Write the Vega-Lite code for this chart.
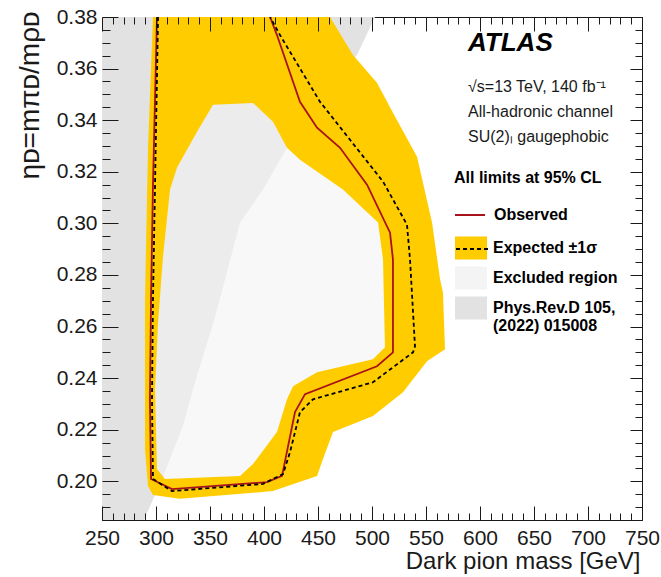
{
  "$schema": "https://vega.github.io/schema/vega-lite/v6.json",
  "width": 540,
  "height": 503,
  "autosize": {"type": "none"},
  "padding": {"left": 102, "top": 17, "right": 19, "bottom": 57},
  "background": "white",
  "config": {
    "font": "Liberation Sans",
    "view": {"stroke": "#1a1a1a", "strokeWidth": 1},
    "axis": {
      "grid": false,
      "domain": false,
      "tickColor": "#1a1a1a",
      "tickWidth": 1,
      "labelColor": "#1a1a1a",
      "labelFont": "Liberation Sans",
      "labelFontSize": 21,
      "titleFont": "Liberation Sans",
      "titleColor": "#1a1a1a",
      "titleFontSize": 24,
      "titleFontWeight": "normal"
    },
    "legend": {
      "labelFont": "Liberation Sans",
      "titleFont": "Liberation Sans",
      "labelColor": "black",
      "titleColor": "black",
      "padding": 0
    }
  },
  "title": {
    "text": "ATLAS",
    "subtitle": ["√s=13 TeV, 140 fb⁻¹", "All-hadronic channel", "SU(2)ₗ gaugephobic"],
    "orient": "top",
    "anchor": "start",
    "frame": "group",
    "offset": 0,
    "dx": 366,
    "dy": 139,
    "font": "Liberation Sans",
    "fontSize": 26,
    "fontStyle": "italic",
    "fontWeight": "bold",
    "color": "black",
    "subtitleFont": "Liberation Sans",
    "subtitleFontSize": 16,
    "subtitleColor": "#1a1a1a",
    "subtitleLineHeight": 25,
    "subtitlePadding": 23
  },
  "datasets": {
    "phys": [
      {"seq": 1, "mass": 250, "eta": 0.38},
      {"seq": 2, "mass": 502.8, "eta": 0.38},
      {"seq": 3, "mass": 486.1, "eta": 0.3653},
      {"seq": 4, "mass": 451.9, "eta": 0.3479},
      {"seq": 5, "mass": 421.3, "eta": 0.3293},
      {"seq": 6, "mass": 399.1, "eta": 0.3131},
      {"seq": 7, "mass": 377.8, "eta": 0.3003},
      {"seq": 8, "mass": 365.7, "eta": 0.281},
      {"seq": 9, "mass": 354.6, "eta": 0.2636},
      {"seq": 10, "mass": 334.3, "eta": 0.2357},
      {"seq": 11, "mass": 325.0, "eta": 0.2214},
      {"seq": 12, "mass": 308.3, "eta": 0.2036},
      {"seq": 13, "mass": 288.9, "eta": 0.185},
      {"seq": 14, "mass": 250, "eta": 0.185}
    ],
    "band": [
      {"seq": 1, "mass": 297.2, "eta": 0.38},
      {"seq": 2, "mass": 461.1, "eta": 0.38},
      {"seq": 3, "mass": 482.4, "eta": 0.3653},
      {"seq": 4, "mass": 504.6, "eta": 0.3545},
      {"seq": 5, "mass": 519.4, "eta": 0.3429},
      {"seq": 6, "mass": 541.7, "eta": 0.3258},
      {"seq": 7, "mass": 555.6, "eta": 0.3003},
      {"seq": 8, "mass": 563.0, "eta": 0.2783},
      {"seq": 9, "mass": 565.7, "eta": 0.2732},
      {"seq": 10, "mass": 567.6, "eta": 0.2512},
      {"seq": 11, "mass": 550.9, "eta": 0.2465},
      {"seq": 12, "mass": 528.7, "eta": 0.2345},
      {"seq": 13, "mass": 500.9, "eta": 0.2253},
      {"seq": 14, "mass": 463.9, "eta": 0.2191},
      {"seq": 15, "mass": 454.6, "eta": 0.2086},
      {"seq": 16, "mass": 449.1, "eta": 0.2021},
      {"seq": 17, "mass": 408.3, "eta": 0.1962},
      {"seq": 18, "mass": 322.2, "eta": 0.1932},
      {"seq": 19, "mass": 297.2, "eta": 0.1947},
      {"seq": 20, "mass": 292.6, "eta": 0.1982},
      {"seq": 21, "mass": 289.8, "eta": 0.2125},
      {"seq": 22, "mass": 289.8, "eta": 0.2705},
      {"seq": 23, "mass": 292.6, "eta": 0.3293},
      {"seq": 24, "mass": 297.2, "eta": 0.38},
      {"seq": 25, "mass": 338.0, "eta": 0.3355},
      {"seq": 26, "mass": 319.4, "eta": 0.3216},
      {"seq": 27, "mass": 313.0, "eta": 0.3131},
      {"seq": 28, "mass": 306.5, "eta": 0.2872},
      {"seq": 29, "mass": 301.9, "eta": 0.2616},
      {"seq": 30, "mass": 299.1, "eta": 0.2357},
      {"seq": 31, "mass": 300.9, "eta": 0.2048},
      {"seq": 32, "mass": 308.3, "eta": 0.2009},
      {"seq": 33, "mass": 377.8, "eta": 0.2021},
      {"seq": 34, "mass": 389.8, "eta": 0.2067},
      {"seq": 35, "mass": 412.0, "eta": 0.2191},
      {"seq": 36, "mass": 421.3, "eta": 0.2318},
      {"seq": 37, "mass": 426.9, "eta": 0.2369},
      {"seq": 38, "mass": 449.1, "eta": 0.2423},
      {"seq": 39, "mass": 500.9, "eta": 0.2473},
      {"seq": 40, "mass": 512.0, "eta": 0.252},
      {"seq": 41, "mass": 510.2, "eta": 0.286},
      {"seq": 42, "mass": 505.6, "eta": 0.3003},
      {"seq": 43, "mass": 473.1, "eta": 0.3131},
      {"seq": 44, "mass": 433.3, "eta": 0.3247},
      {"seq": 45, "mass": 421.3, "eta": 0.3293},
      {"seq": 46, "mass": 408.3, "eta": 0.3394},
      {"seq": 47, "mass": 389.8, "eta": 0.3467},
      {"seq": 48, "mass": 352.8, "eta": 0.346},
      {"seq": 49, "mass": 338.0, "eta": 0.3355}
    ],
    "observed": [
      {"seq": 1, "mass": 300.9, "eta": 0.38},
      {"seq": 2, "mass": 297.2, "eta": 0.315},
      {"seq": 3, "mass": 295.4, "eta": 0.2705},
      {"seq": 4, "mass": 294.4, "eta": 0.2318},
      {"seq": 5, "mass": 295.4, "eta": 0.2009},
      {"seq": 6, "mass": 314.8, "eta": 0.197},
      {"seq": 7, "mass": 402.8, "eta": 0.1997},
      {"seq": 8, "mass": 416.7, "eta": 0.2021},
      {"seq": 9, "mass": 428.7, "eta": 0.2268},
      {"seq": 10, "mass": 438.0, "eta": 0.2338},
      {"seq": 11, "mass": 504.6, "eta": 0.2446},
      {"seq": 12, "mass": 519.4, "eta": 0.25},
      {"seq": 13, "mass": 519.4, "eta": 0.286},
      {"seq": 14, "mass": 516.7, "eta": 0.2964},
      {"seq": 15, "mass": 495.4, "eta": 0.315},
      {"seq": 16, "mass": 470.4, "eta": 0.3293},
      {"seq": 17, "mass": 449.1, "eta": 0.3371},
      {"seq": 18, "mass": 433.3, "eta": 0.3471},
      {"seq": 19, "mass": 412.0, "eta": 0.373},
      {"seq": 20, "mass": 405.6, "eta": 0.38}
    ],
    "expected": [
      {"seq": 1, "mass": 301.9, "eta": 0.38},
      {"seq": 2, "mass": 299.1, "eta": 0.315},
      {"seq": 3, "mass": 297.2, "eta": 0.2705},
      {"seq": 4, "mass": 296.3, "eta": 0.2318},
      {"seq": 5, "mass": 297.2, "eta": 0.2009},
      {"seq": 6, "mass": 314.8, "eta": 0.1962},
      {"seq": 7, "mass": 399.1, "eta": 0.199},
      {"seq": 8, "mass": 417.6, "eta": 0.2028},
      {"seq": 9, "mass": 424.1, "eta": 0.2113},
      {"seq": 10, "mass": 433.3, "eta": 0.2268},
      {"seq": 11, "mass": 445.4, "eta": 0.2318},
      {"seq": 12, "mass": 500.9, "eta": 0.2384},
      {"seq": 13, "mass": 538.0, "eta": 0.25},
      {"seq": 14, "mass": 539.8, "eta": 0.2523},
      {"seq": 15, "mass": 535.2, "eta": 0.286},
      {"seq": 16, "mass": 532.4, "eta": 0.2995},
      {"seq": 17, "mass": 510.2, "eta": 0.3162},
      {"seq": 18, "mass": 451.9, "eta": 0.3471},
      {"seq": 19, "mass": 414.8, "eta": 0.373},
      {"seq": 20, "mass": 405.6, "eta": 0.38}
    ]
  },
  "resolve": {"scale": {"x": "independent", "y": "independent"}},
  "layer": [
    {
      "data": {"name": "phys"},
      "mark": {"type": "line", "strokeWidth": 0, "clip": true},
      "encoding": {
        "x": {
          "field": "mass", "type": "quantitative",
          "scale": {"domain": [250, 750], "nice": false, "zero": false},
          "axis": {
            "orient": "bottom",
            "values": [250, 300, 350, 400, 450, 500, 550, 600, 650, 700, 750],
            "ticks": false, "tickSize": 0,
            "labelPadding": 7, "labelFlush": false, "labelOverlap": false, "labelBound": false,
            "format": "d",
            "title": "Dark pion mass [GeV]",
            "titleX": 538, "titleY": 48,
            "titleAlign": "right", "titleBaseline": "alphabetic", "titleAngle": 0
          }
        },
        "y": {
          "field": "eta", "type": "quantitative",
          "scale": {"domain": [0.185, 0.38], "nice": false, "zero": false},
          "axis": {
            "orient": "left",
            "values": [0.2, 0.22, 0.24, 0.26, 0.28, 0.3, 0.32, 0.34, 0.36, 0.38],
            "ticks": false, "tickSize": 0,
            "labelPadding": 5, "labelFlush": false, "labelOverlap": false, "labelBound": false,
            "format": ".2f",
            "title": "ηᴅ=mπᴅ/mρᴅ",
            "titleFontSize": 28,
            "titleX": -64, "titleY": -6,
            "titleAngle": -90, "titleAlign": "right", "titleBaseline": "alphabetic"
          }
        },
        "order": {"field": "seq", "type": "quantitative"},
        "fill": {
          "datum": "Phys.Rev.D 105, (2022) 015008",
          "type": "nominal",
          "scale": {
            "domain": ["Expected ±1σ", "Excluded region", "Phys.Rev.D 105, (2022) 015008"],
            "range": ["#ffcc00", "#f4f4f4", "#e2e2e2"]
          },
          "legend": {
            "orient": "none", "legendX": 353, "legendY": 215,
            "title": null,
            "symbolType": "M-1,-0.72H1V0.72H-1Z",
            "symbolSize": 1024,
            "symbolStrokeWidth": 0,
            "labelFontSize": 16, "labelFontWeight": "bold",
            "labelOffset": 6, "labelLimit": 300,
            "rowPadding": 2,
            "labelExpr": "datum.label == 'Phys.Rev.D 105, (2022) 015008' ? ['Phys.Rev.D 105,', '(2022) 015008'] : datum.label",
            "encode": {
              "symbols": {
                "update": {
                  "fill": {"scale": "fill", "field": "value"},
                  "fillOpacity": {"value": 1}
                }
              },
              "labels": {"update": {"lineHeight": {"value": 17}}}
            }
          }
        }
      }
    },
    {
      "data": {"name": "observed"},
      "mark": {"type": "line", "strokeWidth": 0, "fillOpacity": 0.6, "clip": true},
      "encoding": {
        "x": {
          "field": "mass", "type": "quantitative",
          "scale": {"domain": [250, 750], "nice": false, "zero": false},
          "axis": {
            "orient": "bottom", "zindex": 1,
            "values": [250, 300, 350, 400, 450, 500, 550, 600, 650, 700, 750],
            "labels": false, "ticks": true, "tickSize": 14, "offset": -14, "title": null
          }
        },
        "y": {
          "field": "eta", "type": "quantitative",
          "scale": {"domain": [0.185, 0.38], "nice": false, "zero": false},
          "axis": {
            "orient": "left", "zindex": 1,
            "values": [0.2, 0.22, 0.24, 0.26, 0.28, 0.3, 0.32, 0.34, 0.36, 0.38],
            "labels": false, "ticks": true, "tickSize": 16, "offset": -16, "title": null
          }
        },
        "order": {"field": "seq", "type": "quantitative"},
        "fill": {"datum": "Excluded region", "type": "nominal"}
      }
    },
    {
      "data": {"name": "band"},
      "mark": {"type": "line", "strokeWidth": 0, "clip": true},
      "encoding": {
        "x": {
          "field": "mass", "type": "quantitative",
          "scale": {"domain": [250, 750], "nice": false, "zero": false},
          "axis": {
            "orient": "bottom", "zindex": 1,
            "values": [260, 270, 280, 290, 310, 320, 330, 340, 360, 370, 380, 390, 410, 420, 430, 440, 460, 470, 480, 490, 510, 520, 530, 540, 560, 570, 580, 590, 610, 620, 630, 640, 660, 670, 680, 690, 710, 720, 730, 740],
            "labels": false, "ticks": true, "tickSize": 7, "offset": -7, "title": null
          }
        },
        "y": {
          "field": "eta", "type": "quantitative",
          "scale": {"domain": [0.185, 0.38], "nice": false, "zero": false},
          "axis": {
            "orient": "left", "zindex": 1,
            "values": [0.185, 0.19, 0.195, 0.205, 0.21, 0.215, 0.225, 0.23, 0.235, 0.245, 0.25, 0.255, 0.265, 0.27, 0.275, 0.285, 0.29, 0.295, 0.305, 0.31, 0.315, 0.325, 0.33, 0.335, 0.345, 0.35, 0.355, 0.365, 0.37, 0.375],
            "labels": false, "ticks": true, "tickSize": 8, "offset": -8, "title": null
          }
        },
        "order": {"field": "seq", "type": "quantitative"},
        "fill": {"datum": "Expected ±1σ", "type": "nominal"}
      }
    },
    {
      "data": {"name": "observed"},
      "mark": {"type": "line", "strokeWidth": 1.8, "clip": true},
      "encoding": {
        "x": {
          "field": "mass", "type": "quantitative",
          "scale": {"domain": [250, 750], "nice": false, "zero": false},
          "axis": {
            "orient": "top", "zindex": 1,
            "values": [250, 300, 350, 400, 450, 500, 550, 600, 650, 700, 750],
            "labels": false, "ticks": true, "tickSize": 14, "offset": -14, "title": null
          }
        },
        "y": {
          "field": "eta", "type": "quantitative",
          "scale": {"domain": [0.185, 0.38], "nice": false, "zero": false},
          "axis": {
            "orient": "right", "zindex": 1,
            "values": [0.2, 0.22, 0.24, 0.26, 0.28, 0.3, 0.32, 0.34, 0.36, 0.38],
            "labels": false, "ticks": true, "tickSize": 12, "offset": -12, "title": null
          }
        },
        "order": {"field": "seq", "type": "quantitative"},
        "stroke": {
          "datum": "Observed",
          "type": "nominal",
          "scale": {"domain": ["Observed"], "range": ["#a8121c"]},
          "legend": {
            "orient": "none", "legendX": 352, "legendY": 153,
            "title": "All limits at 95% CL",
            "titleFontSize": 16, "titleFontWeight": "bold", "titlePadding": 13,
            "labelFontSize": 16, "labelFontWeight": "bold",
            "symbolType": "stroke", "symbolSize": 900, "symbolStrokeWidth": 2,
            "labelOffset": 8
          }
        }
      }
    },
    {
      "data": {"name": "expected"},
      "mark": {"type": "line", "stroke": "black", "strokeWidth": 1.8, "clip": true},
      "encoding": {
        "x": {
          "field": "mass", "type": "quantitative",
          "scale": {"domain": [250, 750], "nice": false, "zero": false},
          "axis": {
            "orient": "top", "zindex": 1,
            "values": [260, 270, 280, 290, 310, 320, 330, 340, 360, 370, 380, 390, 410, 420, 430, 440, 460, 470, 480, 490, 510, 520, 530, 540, 560, 570, 580, 590, 610, 620, 630, 640, 660, 670, 680, 690, 710, 720, 730, 740],
            "labels": false, "ticks": true, "tickSize": 7, "offset": -7, "title": null
          }
        },
        "y": {
          "field": "eta", "type": "quantitative",
          "scale": {"domain": [0.185, 0.38], "nice": false, "zero": false},
          "axis": {
            "orient": "right", "zindex": 1,
            "values": [0.185, 0.19, 0.195, 0.205, 0.21, 0.215, 0.225, 0.23, 0.235, 0.245, 0.25, 0.255, 0.265, 0.27, 0.275, 0.285, 0.29, 0.295, 0.305, 0.31, 0.315, 0.325, 0.33, 0.335, 0.345, 0.35, 0.355, 0.365, 0.37, 0.375],
            "labels": false, "ticks": true, "tickSize": 7, "offset": -7, "title": null
          }
        },
        "order": {"field": "seq", "type": "quantitative"},
        "strokeDash": {
          "datum": "Expected ±1σ",
          "type": "nominal",
          "scale": {"domain": ["Expected ±1σ"], "range": [[4, 3]]},
          "legend": {
            "orient": "none", "legendX": 353, "legendY": 215,
            "title": null,
            "symbolType": "stroke", "symbolSize": 1024,
            "symbolStrokeColor": "black", "symbolStrokeWidth": 2,
            "labelExpr": "''"
          }
        }
      }
    }
  ]
}
